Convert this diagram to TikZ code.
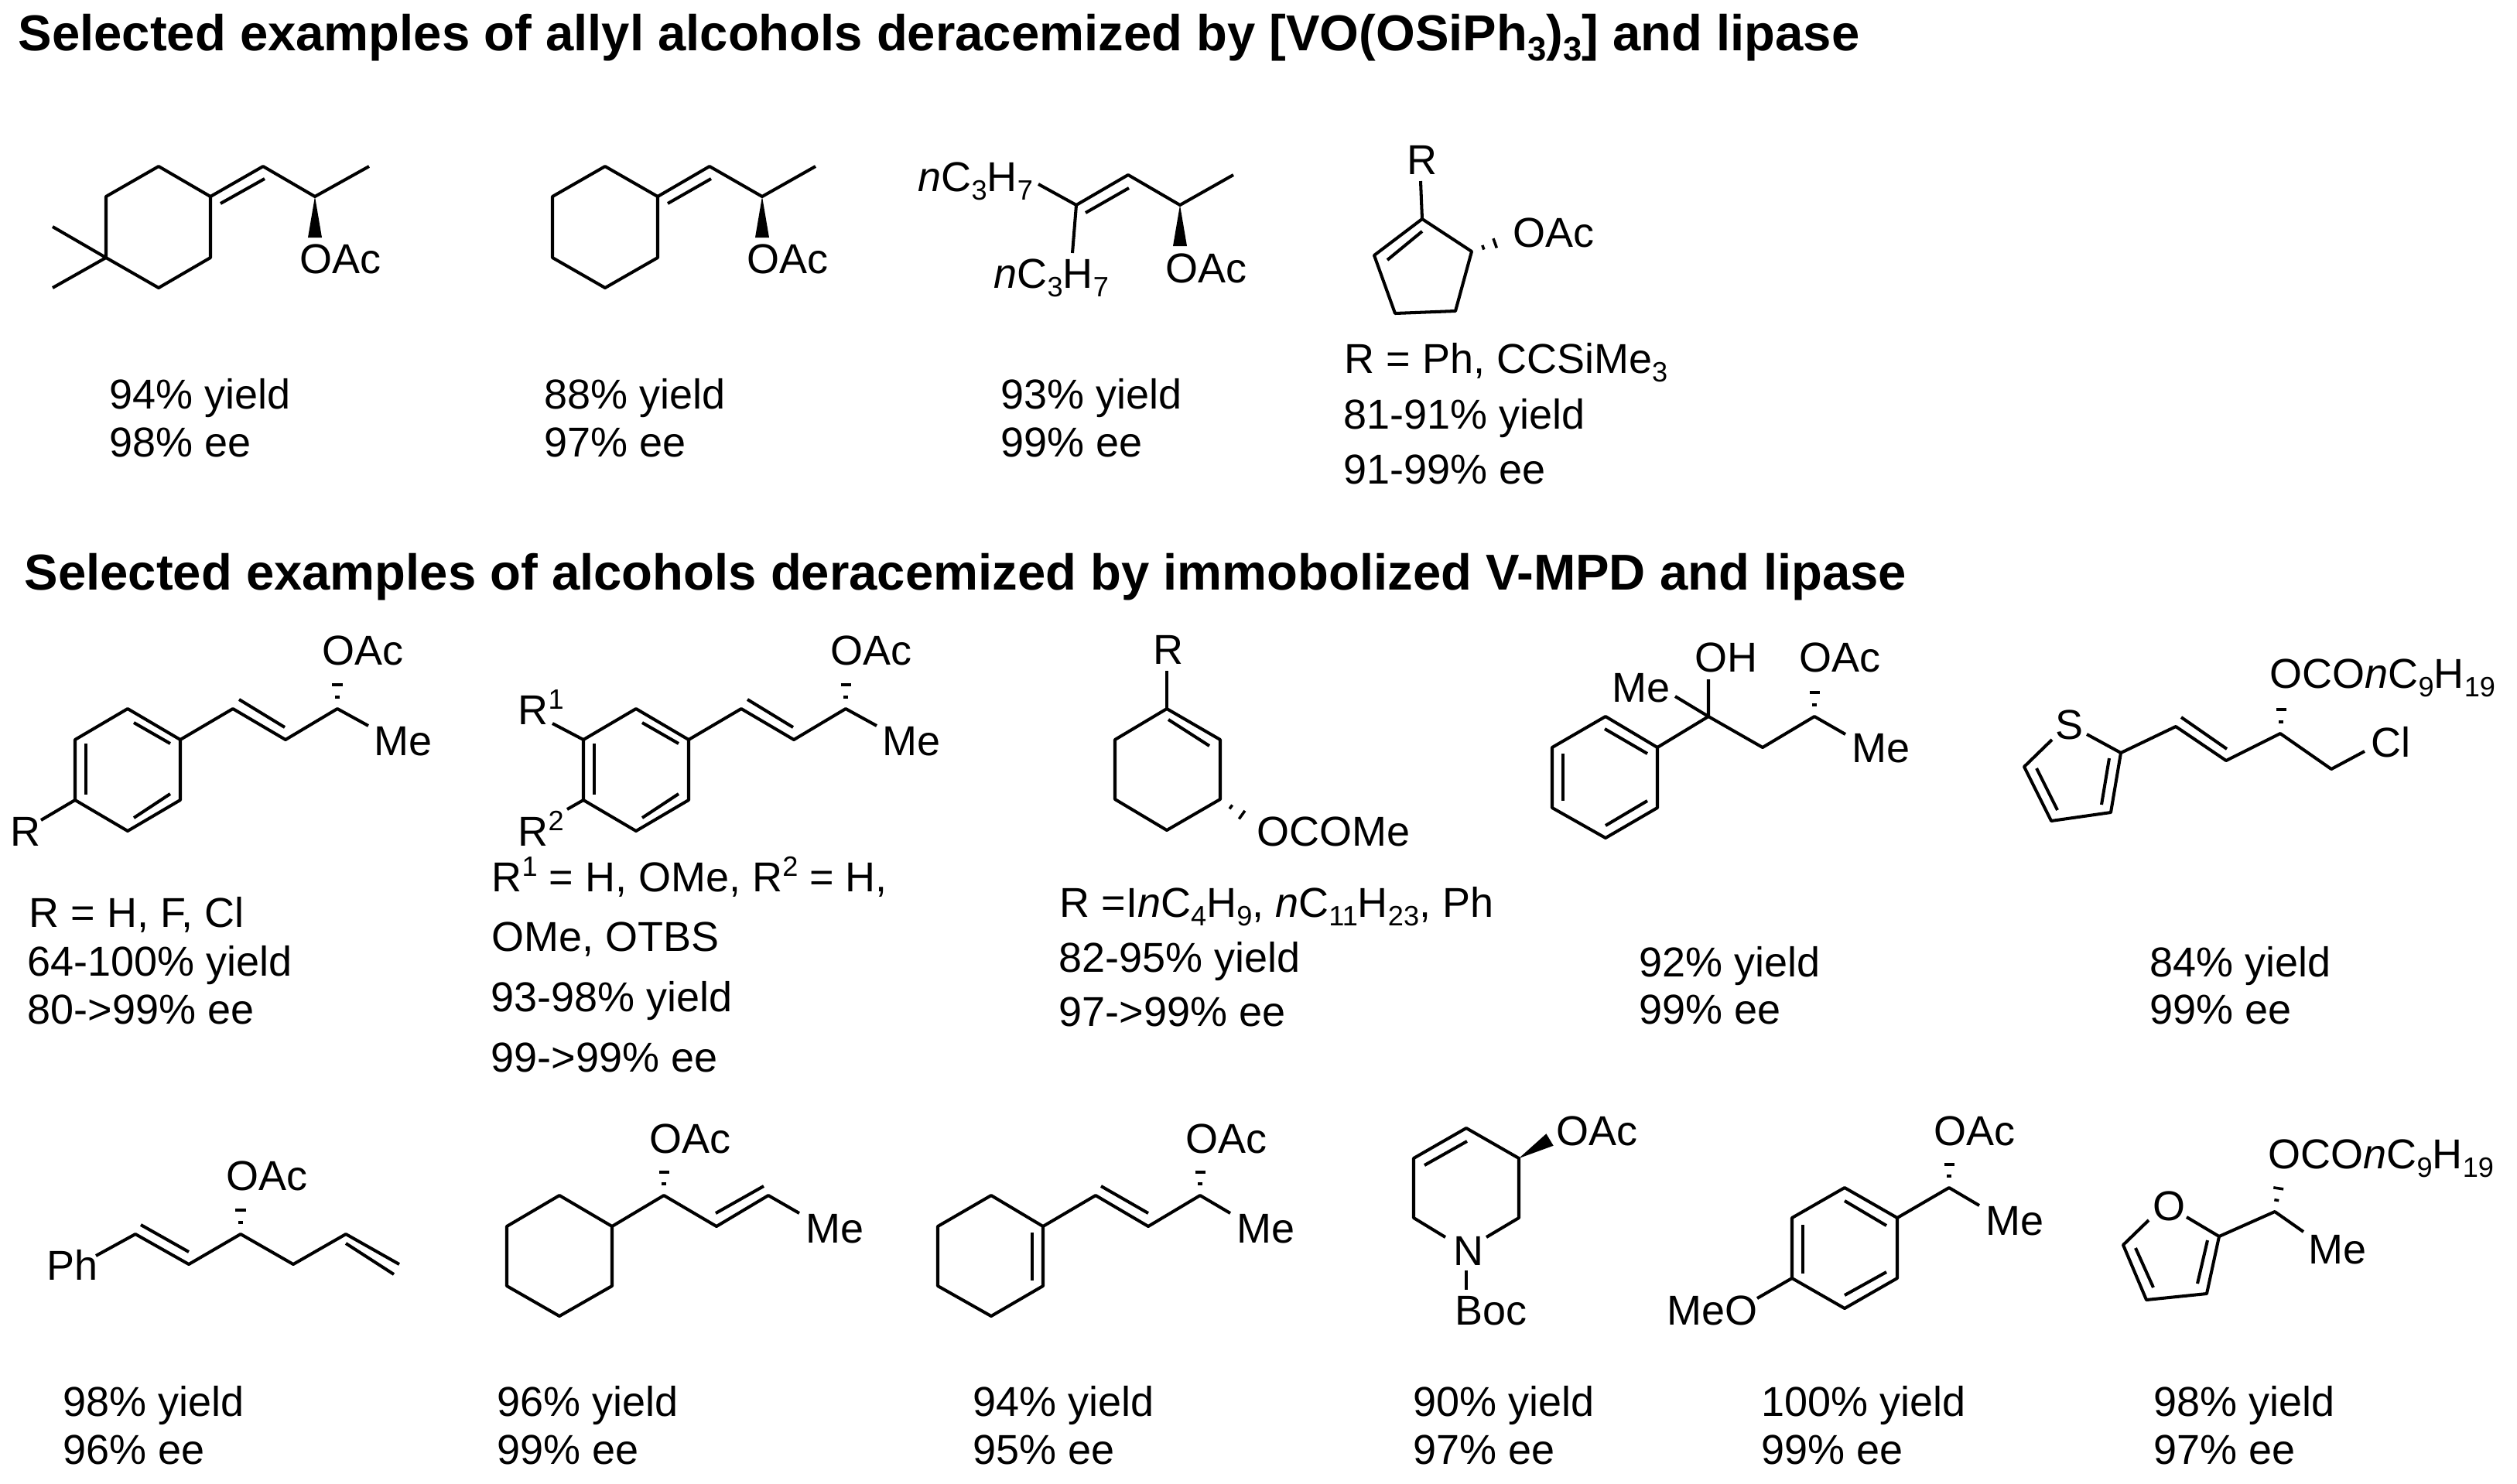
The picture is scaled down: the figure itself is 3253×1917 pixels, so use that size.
\documentclass[tikz,border=0pt]{standalone}
\usepackage{fontspec,graphicx}
\setmainfont{Liberation Sans}
\usetikzlibrary{calc}

\tikzset{
	bond/.style={line width=1.15pt, line join=round},
	txt/.style={anchor=base west, inner sep=0pt, font=\fontsize{15.35}{18}\selectfont},
	head/.style={anchor=base west, inner sep=0pt, font=\fontsize{18.55}{22}\selectfont\bfseries}
}

\newcommand{\chemsub}[1]{\raisebox{-.21em}{\scalebox{.67}{#1}}}
\newcommand{\chemsup}[1]{\raisebox{.37em}{\scalebox{.67}{#1}}}
% hashed bond, three dashes growing towards the substituent
\newcommand{\hashbond}[2]{%
	\foreach \hpos/\hwid in {0.33/0.03, 0.67/0.065, 1/0.1}{
		\draw[line width=1pt] ($#1!\hpos!#2!\hwid cm!90:#2$) -- ($#1!\hpos!#2!\hwid cm!-90:#2$);
	}}
% solid wedge bond
\newcommand{\wedgebond}[2]{%
	\fill #1 -- ($#2!0.09cm!90:#1$) -- ($#2!0.09cm!-90:#1$) -- cycle;}

\begin{document}
\begin{tikzpicture}[x=0.01cm, y=-0.01cm]
	\useasboundingbox (0,0) rectangle (3253,1917);

	%Titel
	\node[head] (headA) at (23,65) {Selected examples of allyl alcohols deracemized by [VO(OSiPh\chemsub{3})\chemsub{3}] and lipase};
	\node[head] (headB) at (31,762) {Selected examples of alcohols deracemized by immobolized V-MPD and lipase};

	%Dimethylcyclohexylidene
	\draw[bond] (137,254) -- (205,215) -- (272,254) -- (272,333) -- (205,372) -- (137,333) -- cycle;
	\draw[bond] (68,293) -- (137,333) -- (68,372);
	\draw[bond] (272,254) -- (340,215) -- (407,254) -- (477,215);
	\draw[bond] (285,263) -- (342,231);
	\wedgebond{(407,254)}{(407,307)}
	\node[txt] (oacA) at (387,353) {OAc};
	\node[txt] (yldA) at (141,528) {94\% yield};
	\node[txt] (eeA) at (141,590) {98\% ee};

	%Cyclohexylidene
	\draw[bond] (714,254) -- (782,215) -- (850,254) -- (850,333) -- (782,372) -- (714,333) -- cycle;
	\draw[bond] (850,254) -- (917,215) -- (985,254) -- (1054,215);
	\draw[bond] (863,263) -- (919,231);
	\wedgebond{(985,254)}{(985,307)}
	\node[txt] (oacB) at (965,353) {OAc};
	\node[txt] (yldB) at (703,528) {88\% yield};
	\node[txt] (eeB) at (703,590) {97\% ee};

	%Dipropyl
	\node[txt] (prA) at (1186,247) {\textit{n}C\chemsub{3}H\chemsub{7}};
	\node[txt] (prB) at (1284,372) {\textit{n}C\chemsub{3}H\chemsub{7}};
	\draw[bond] (1342,238) -- (1391,265) -- (1458,226) -- (1525,265) -- (1594,226);
	\draw[bond] (1391,265) -- (1386,327);
	\draw[bond] (1403,275) -- (1459,243);
	\wedgebond{(1525,265)}{(1525,318)}
	\node[txt] (oacC) at (1506,365) {OAc};
	\node[txt] (yldC) at (1293,528) {93\% yield};
	\node[txt] (eeC) at (1293,590) {99\% ee};

	%Cyclopentene
	\node[txt] (rD) at (1818,225) {R};
	\draw[bond] (1836,234) -- (1838,283);
	\draw[bond] (1838,283) -- (1776,330) -- (1803,405) -- (1881,402) -- (1902,325) -- cycle;
	\draw[bond] (1793,336) -- (1838,299);
	\hashbond{(1902,325)}{(1947,309)}
	\node[txt] (oacD) at (1955,319) {OAc};
	\node[txt] (subD) at (1737,482) {R = Ph, CCSiMe\chemsub{3}};
	\node[txt] (yldD) at (1736,554) {81-91\% yield};
	\node[txt] (eeD) at (1736,625) {91-99\% ee};

	%Aryl, para
	\draw[bond] (97,956) -- (165,916) -- (233,956) -- (233,1034) -- (165,1074) -- (97,1034) -- cycle;
	\draw[bond] (173,934) -- (220,961);
	\draw[bond] (111,961) -- (111,1027);
	\draw[bond] (173,1057) -- (220,1026);
	\draw[bond] (233,956) -- (301,916) -- (369,956) -- (436,916) -- (476,938);
	\draw[bond] (309,904) -- (368,940);
	\draw[bond] (97,1034) -- (53,1060);
	\hashbond{(436,916)}{(436,870)}
	\node[txt] (oacE) at (416,859) {OAc};
	\node[txt] (meE) at (483,976) {Me};
	\node[txt] (rE) at (13,1093) {R};
	\node[txt] (subE) at (37,1198) {R = H, F, Cl};
	\node[txt] (yldE) at (35,1261) {64-100\% yield};
	\node[txt] (eeE) at (35,1323) {80->99\% ee};

	%Aryl, disubstituted
	\draw[bond] (754,956) -- (822,916) -- (890,956) -- (890,1034) -- (822,1074) -- (754,1034) -- cycle;
	\draw[bond] (830,934) -- (877,961);
	\draw[bond] (768,961) -- (768,1027);
	\draw[bond] (830,1057) -- (877,1026);
	\draw[bond] (890,956) -- (958,916) -- (1026,956) -- (1093,916) -- (1133,938);
	\draw[bond] (966,904) -- (1025,940);
	\draw[bond] (754,956) -- (714,935);
	\draw[bond] (754,1034) -- (733,1046);
	\hashbond{(1093,916)}{(1093,870)}
	\node[txt] (oacF) at (1073,859) {OAc};
	\node[txt] (meF) at (1140,976) {Me};
	\node[txt] (rF) at (669,936) {R\chemsup{1}};
	\node[txt] (rrF) at (669,1093) {R\chemsup{2}};
	\node[txt] (subF) at (635,1152) {R\chemsup{1} = H, OMe, R\chemsup{2} = H,};
	\node[txt] (subFF) at (635,1229) {OMe, OTBS};
	\node[txt] (yldF) at (634,1307) {93-98\% yield};
	\node[txt] (eeF) at (634,1385) {99->99\% ee};

	%Cyclohexene
	\node[txt] (rG) at (1490,858) {R};
	\draw[bond] (1508,867) -- (1508,916);
	\draw[bond] (1508,916) -- (1577,956) -- (1577,1033) -- (1508,1073) -- (1441,1033) -- (1441,956) -- cycle;
	\draw[bond] (1510,930) -- (1563,964);
	\hashbond{(1577,1033)}{(1619,1063)}
	\node[txt] (ocG) at (1624,1093) {OCOMe};
	\node[txt] (subG) at (1369,1185) {R =I\textit{n}C\chemsub{4}H\chemsub{9}, \textit{n}C\chemsub{11}H\chemsub{23}, Ph};
	\node[txt] (yldG) at (1368,1256) {82-95\% yield};
	\node[txt] (eeG) at (1368,1326) {97->99\% ee};

	%Tertiary alcohol
	\draw[bond] (2006,966) -- (2075,926) -- (2142,966) -- (2142,1044) -- (2075,1083) -- (2006,1044) -- cycle;
	\draw[bond] (2074,942) -- (2129,974);
	\draw[bond] (2020,974) -- (2020,1035);
	\draw[bond] (2075,1067) -- (2129,1035);
	\draw[bond] (2142,966) -- (2208,926) -- (2278,966) -- (2345,926) -- (2385,949);
	\draw[bond] (2165,900) -- (2208,926) -- (2208,878);
	\hashbond{(2345,926)}{(2345,880)}
	\node[txt] (meH) at (2083,907) {Me};
	\node[txt] (ohH) at (2190,868) {OH};
	\node[txt] (oacH) at (2325,868) {OAc};
	\node[txt] (meeH) at (2393,985) {Me};
	\node[txt] (yldH) at (2118,1262) {92\% yield};
	\node[txt] (eeH) at (2118,1323) {99\% ee};

	%Thiophene
	\node[txt] (sJ) at (2656,955) {S};
	\draw[bond] (2652,956) -- (2616,991) -- (2651,1061) -- (2728,1050) -- (2741,973) -- (2697,949);
	\draw[bond] (2632,993) -- (2659,1047);
	\draw[bond] (2726,980) -- (2716,1040);
	\draw[bond] (2741,973) -- (2812,939) -- (2877,983) -- (2947,948) -- (3013,994) -- (3056,971);
	\draw[bond] (2819,927) -- (2878,968);
	\hashbond{(2948,948)}{(2948,902)}
	\node[txt] (ocJ) at (2933,889) {OCO\textit{n}C\chemsub{9}H\chemsub{19}};
	\node[txt] (clJ) at (3064,978) {Cl};
	\node[txt] (yldJ) at (2778,1262) {84\% yield};
	\node[txt] (eeJ) at (2778,1323) {99\% ee};

	%Phenyl hexadiene
	\node[txt] (phK) at (60,1654) {Ph};
	\draw[bond] (124,1623) -- (175,1595) -- (244,1634) -- (311,1595) -- (379,1634) -- (447,1595) -- (516,1634);
	\draw[bond] (182,1583) -- (244,1618);
	\draw[bond] (447,1607) -- (509,1647);
	\hashbond{(311,1595)}{(311,1549)}
	\node[txt] (oacK) at (292,1538) {OAc};
	\node[txt] (yldK) at (81,1830) {98\% yield};
	\node[txt] (eeK) at (81,1892) {96\% ee};

	%Cyclohexyl
	\draw[bond] (655,1585) -- (723,1545) -- (791,1585) -- (791,1662) -- (723,1701) -- (655,1662) -- cycle;
	\draw[bond] (791,1585) -- (858,1545) -- (926,1585) -- (993,1545) -- (1033,1568);
	\draw[bond] (925,1568) -- (987,1533);
	\hashbond{(858,1545)}{(858,1500)}
	\node[txt] (oacL) at (839,1490) {OAc};
	\node[txt] (meL) at (1041,1606) {Me};
	\node[txt] (yldL) at (642,1830) {96\% yield};
	\node[txt] (eeL) at (642,1892) {99\% ee};

	%Cyclohexenyl
	\draw[bond] (1212,1585) -- (1281,1545) -- (1348,1585) -- (1348,1662) -- (1281,1701) -- (1212,1662) -- cycle;
	\draw[bond] (1334,1593) -- (1334,1655);
	\draw[bond] (1348,1585) -- (1416,1545) -- (1484,1585) -- (1551,1545) -- (1590,1568);
	\draw[bond] (1423,1533) -- (1484,1568);
	\hashbond{(1551,1545)}{(1551,1500)}
	\node[txt] (oacM) at (1532,1490) {OAc};
	\node[txt] (meM) at (1598,1606) {Me};
	\node[txt] (yldM) at (1257,1830) {94\% yield};
	\node[txt] (eeM) at (1257,1892) {95\% ee};

	%Tetrahydropyridine
	\draw[bond] (1921,1599) -- (1963,1574) -- (1963,1497) -- (1895,1458) -- (1827,1497) -- (1827,1574) -- (1868,1599);
	\draw[bond] (1841,1506) -- (1896,1475);
	\draw[bond] (1895,1642) -- (1895,1667);
	\wedgebond{(1963,1497)}{(2003,1473)}
	\node[txt] (nN) at (1878,1635) {N};
	\node[txt] (bocN) at (1880,1712) {Boc};
	\node[txt] (oacN) at (2011,1480) {OAc};
	\node[txt] (yldN) at (1826,1830) {90\% yield};
	\node[txt] (eeN) at (1826,1892) {97\% ee};

	%Methoxyphenyl
	\draw[bond] (2316,1574) -- (2384,1535) -- (2452,1574) -- (2452,1652) -- (2384,1691) -- (2316,1652) -- cycle;
	\draw[bond] (2384,1552) -- (2438,1584);
	\draw[bond] (2330,1583) -- (2330,1646);
	\draw[bond] (2384,1674) -- (2438,1644);
	\draw[bond] (2452,1574) -- (2519,1535) -- (2558,1558);
	\draw[bond] (2316,1652) -- (2271,1678);
	\hashbond{(2519,1535)}{(2519,1490)}
	\node[txt] (oacP) at (2499,1480) {OAc};
	\node[txt] (meP) at (2566,1596) {Me};
	\node[txt] (omeP) at (2154,1712) {MeO};
	\node[txt] (yldP) at (2276,1830) {100\% yield};
	\node[txt] (eeP) at (2276,1892) {99\% ee};

	%Furan
	\node[txt] (oQ) at (2782,1577) {O};
	\draw[bond] (2777,1577) -- (2744,1609) -- (2774,1680) -- (2852,1672) -- (2868,1598) -- (2826,1573);
	\draw[bond] (2760,1613) -- (2783,1664);
	\draw[bond] (2853,1603) -- (2840,1659);
	\draw[bond] (2868,1598) -- (2940,1566) -- (2977,1592);
	\hashbond{(2940,1566)}{(2947,1521)}
	\node[txt] (ocQ) at (2931,1510) {OCO\textit{n}C\chemsub{9}H\chemsub{19}};
	\node[txt] (meQ) at (2983,1633) {Me};
	\node[txt] (yldQ) at (2783,1830) {98\% yield};
	\node[txt] (eeQ) at (2783,1892) {97\% ee};

\end{tikzpicture}
\end{document}
